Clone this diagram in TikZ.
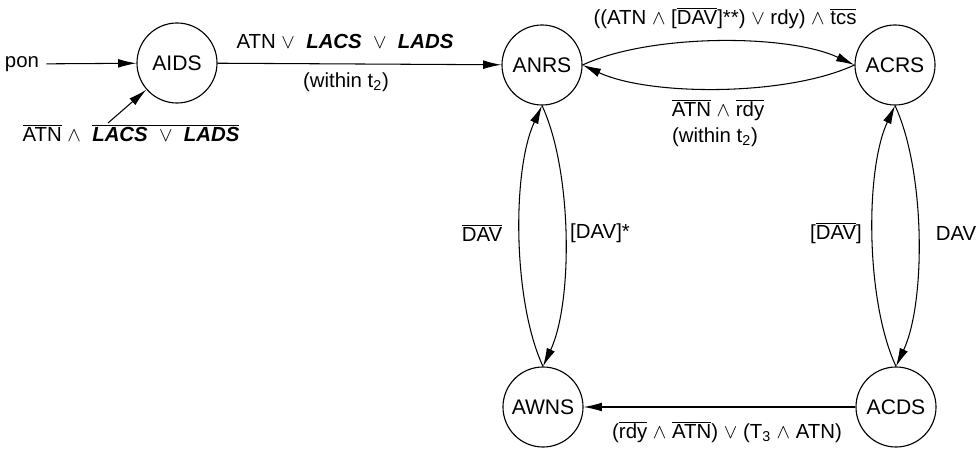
\documentclass[tikz,border=0pt]{standalone}
\usepackage{fontspec}
\setmainfont{Liberation Sans}
\usetikzlibrary{arrows.meta}
\newcommand{\nb}[1]{$\overline{\mbox{#1}}$}
\newcommand{\bi}[1]{\textbf{\textit{#1}}}
\begin{document}
\begin{tikzpicture}[
    x=0.025cm, y=0.025cm,
    state/.style={circle, draw, line width=0.8pt, minimum size=2cm, inner sep=0pt, font=\fontsize{15}{18}\selectfont},
    move/.style={-{Latex[length=4.6mm,width=2.2mm]}, line width=0.75pt},
    lbl/.style={inner sep=1pt, font=\fontsize{14.5}{17}\selectfont}
  ]
  \useasboundingbox (0,0) rectangle (979,448);

  \node[state] (aids) at (177,385) {AIDS};
  \node[state] (anrs) at (542,383) {ANRS};
  \node[state] (acrs) at (895,383) {ACRS};
  \node[state] (awns) at (543,41) {AWNS};
  \node[state] (acds) at (896,41) {ACDS};

  % Entry into the idle state
  \node[lbl, inner sep=5pt] (pon) at (22,384) {pon};
  \coordinate (back) at (108,325);
  \node[lbl] (idle) at (131,315) {\nb{ATN} $\land$ \ \nb{\bi{LACS} \ $\lor$ \ \bi{LADS}}};
  \draw[move] (pon) -- (aids);
  \draw[move] (back) -- (aids);

  % Idle to ready
  \draw[move] (aids) -- (anrs);
  \node[lbl] (go) at (345,407) {ATN $\lor$ \ \bi{LACS} \ $\lor$ \ \bi{LADS}};
  \node[lbl] (tw1) at (346,366) {(within t\textsubscript{2})};

  % Ready <-> connect request
  \draw[move] (anrs.east) to[out=25, in=155, looseness=0.7] (acrs.west);
  \draw[move] (acrs.west) to[out=-155, in=-25, looseness=0.7] (anrs.east);
  \node[lbl] (req) at (725,430) {((ATN $\land$ [\nb{DAV}]**) $\lor$ rdy) $\land$ \nb{tcs}};
  \node[lbl] (rel) at (718,338) {\nb{ATN} $\land$ \nb{rdy}};
  \node[lbl] (tw2) at (715,311) {(within t\textsubscript{2})};

  % Ready <-> wait
  \draw[move] (awns.north) to[out=115, in=-115, looseness=0.7] (anrs.south);
  \draw[move] (anrs.south) to[out=-65, in=65, looseness=0.7] (awns.north);
  \node[lbl] (nodav) at (482,215) {\nb{DAV}};
  \node[lbl] (dav1) at (600,215) {[DAV]*};

  % Connect request <-> connected
  \draw[move] (acds.north) to[out=115, in=-115, looseness=0.7] (acrs.south);
  \draw[move] (acrs.south) to[out=-65, in=65, looseness=0.7] (acds.north);
  \node[lbl] (nodav2) at (836,215) {[\nb{DAV}]};
  \node[lbl] (dav2) at (956,215) {DAV};

  % Connected to wait
  \draw[move] (acds) -- (awns);
  \node[lbl] (drop) at (727,16) {(\nb{rdy} $\land$ \nb{ATN}) $\lor$ (T\textsubscript{3} $\land$ ATN)};
\end{tikzpicture}
\end{document}
